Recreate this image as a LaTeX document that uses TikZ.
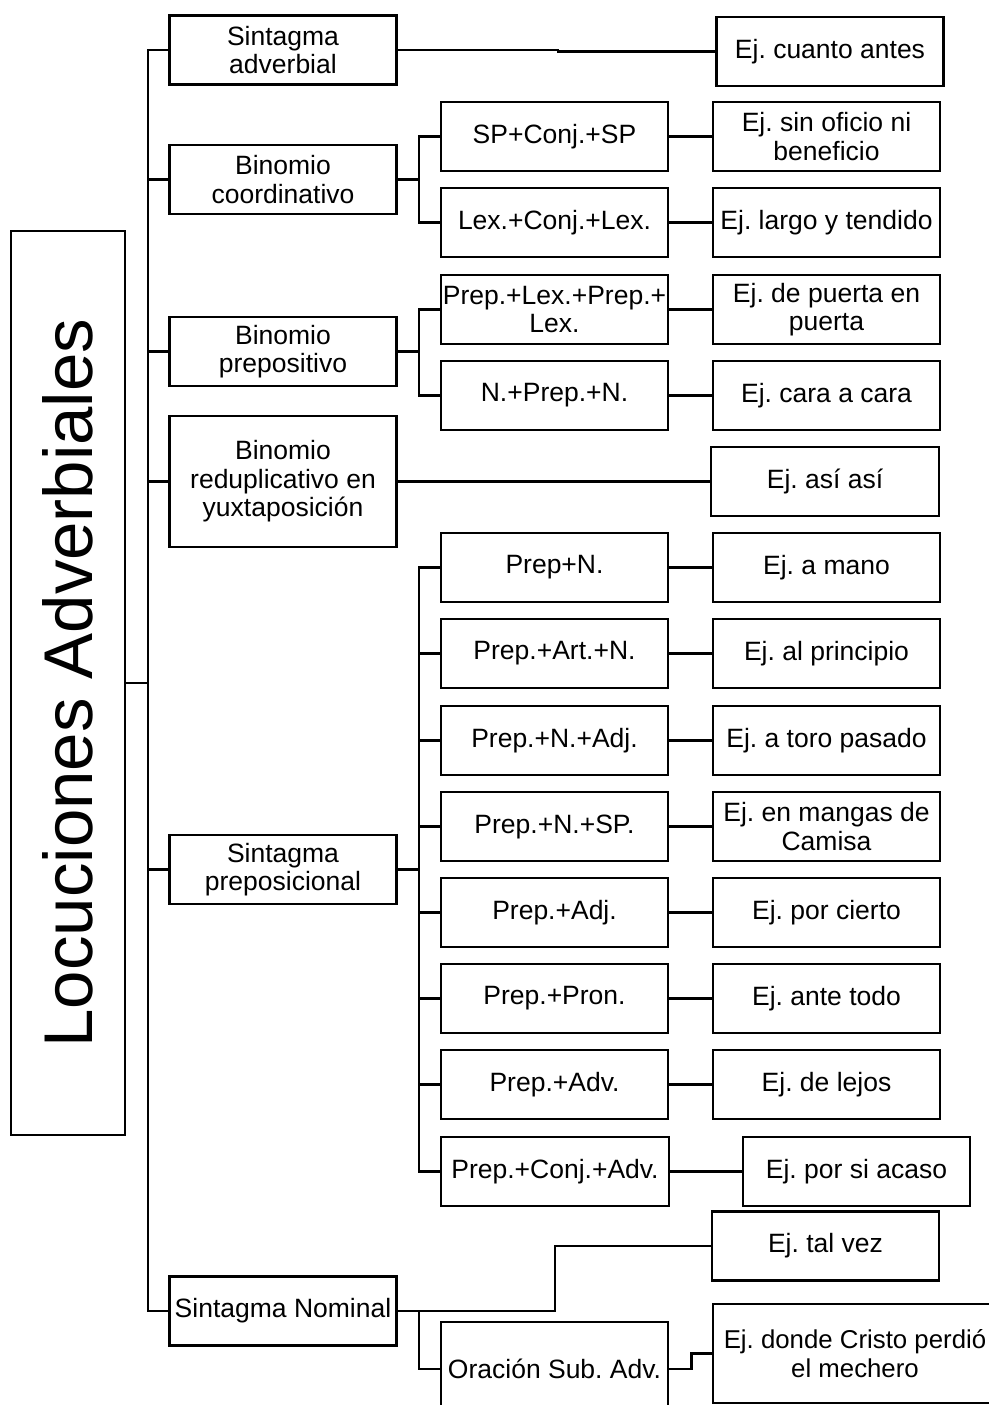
\documentclass[tikz,border=0pt]{standalone}
\usepackage{fontspec}
\setmainfont{Liberation Sans}
\frenchspacing
\begin{document}
\begin{tikzpicture}[x=1pt,y=-1pt,
  box/.style={draw, line width=2.6pt, align=center, inner sep=0pt,
    minimum width=227pt, minimum height=69pt,
    font=\fontsize{26.5}{28.5}\selectfont},
  link/.style={line width=2.6pt},
  titlebox/.style={draw, line width=2pt, rotate=90, inner sep=0pt,
    minimum width=904pt, minimum height=114pt,
    font=\fontsize{69}{80}\selectfont}]
\useasboundingbox (0,0) rectangle (988,1405);

% bus lines
\coordinate (trunk) at (148,0);
\coordinate (bus) at (419,0);

% root
\node[titlebox] (main) at (68,683) {Locuciones Adverbiales};

% first level
\node[box] (sa)  at (283,50)    {Sintagma\\adverbial};
\node[box] (bc)  at (283,179.5) {Binomio\\coordinativo};
\node[box] (bp)  at (283,351.5) {Binomio\\prepositivo};
\node[box, minimum height=131pt] (br) at (283,481.5) {Binomio\\reduplicativo en\\yuxtaposición};
\node[box] (spr) at (283,869.5) {Sintagma\\preposicional};
\node[box] (sn)  at (283,1311)  {Sintagma Nominal};

% second level
\node[box] (c1) at (554.5,136.5)  {SP+Conj.+SP};
\node[box] (c2) at (554.5,222.5)  {Lex.+Conj.+Lex.};
\node[box] (p1) at (554.5,309.5)  {Prep.+Lex.+Prep.+\\Lex.};
\node[box] (p2) at (554.5,395.5)  {N.+Prep.+N.};
\node[box] (s1) at (554.5,567.5)  {Prep+N.};
\node[box] (s2) at (554.5,653.5)  {Prep.+Art.+N.};
\node[box] (s3) at (554.5,740.5)  {Prep.+N.+Adj.};
\node[box] (s4) at (554.5,826.5)  {Prep.+N.+SP.};
\node[box] (s5) at (554.5,912.5)  {Prep.+Adj.};
\node[box] (s6) at (554.5,998.5)  {Prep.+Pron.};
\node[box] (s7) at (554.5,1084.5) {Prep.+Adv.};
\node[box, minimum width=228pt] (s8) at (555,1171.5) {Prep.+Conj.+Adv.};
\node[box, minimum height=94pt] (ora) at (554.5,1369) {Oración Sub. Adv.};

% examples
\node[box] (e0)  at (830,51.5)    {Ej. cuanto antes};
\node[box] (e1)  at (826.5,136.5) {Ej. sin oficio ni\\beneficio};
\node[box] (e2)  at (826.5,222.5) {Ej. largo y tendido};
\node[box] (e3)  at (826.5,309.5) {Ej. de puerta en\\puerta};
\node[box] (e4)  at (826.5,395.5) {Ej. cara a cara};
\node[box, minimum width=228pt] (e5) at (825,481.5) {Ej. así así};
\node[box] (e6)  at (826.5,567.5) {Ej. a mano};
\node[box] (e7)  at (826.5,653.5) {Ej. al principio};
\node[box] (e8)  at (826.5,740.5) {Ej. a toro pasado};
\node[box] (e9)  at (826.5,826.5) {Ej. en mangas de\\Camisa};
\node[box] (e10) at (826.5,912.5) {Ej. por cierto};
\node[box] (e11) at (826.5,998.5) {Ej. ante todo};
\node[box] (e12) at (826.5,1084.5) {Ej. de lejos};
\node[box] (e13) at (856.5,1171.5) {Ej. por si acaso};
\node[box] (tv)  at (825.5,1246)  {Ej. tal vez};
\node[box, minimum width=284pt, minimum height=99pt,
  font=\fontsize{25.8}{28.5}\selectfont] (ed) at (855,1353.5) {Ej. donde Cristo perdió\\el mechero};

% trunk from the root
\draw[link] (main.south) -- (main.south -| trunk);
\draw[link] (sa.west) -| (trunk |- sn.west) -- (sn.west);
\foreach \n in {bc,bp,br,spr} \draw[link] (\n.west) -- (\n.west -| trunk);

% binomio coordinativo
\draw[link] (bc.east) -- (bc.east -| bus);
\draw[link] (c1.west) -| (bus |- c2.west) -- (c2.west);

% binomio prepositivo
\draw[link] (bp.east) -- (bp.east -| bus);
\draw[link] (p1.west) -| (bus |- p2.west) -- (p2.west);

% sintagma preposicional
\draw[link] (spr.east) -- (spr.east -| bus);
\draw[link] (s1.west) -| (bus |- s8.west) -- (s8.west);
\foreach \n in {s2,s3,s4,s5,s6,s7} \draw[link] (\n.west) -- (\n.west -| bus);

% sintagma nominal
\draw[link] (sn.east) -- ++(157,0) |- (tv.west);
\draw[link] (bus |- sn.east) |- (ora.west);
\draw[link] (ora.east) -- ++(22,0) |- (ed.west);

% direct examples
\draw[link] (sa.east) -- ++(160,0) |- (e0.west);
\draw[link] (br.east) -- (e5.west);
\draw[link] (c1) -- (e1);
\draw[link] (c2) -- (e2);
\draw[link] (p1) -- (e3);
\draw[link] (p2) -- (e4);
\draw[link] (s1) -- (e6);
\draw[link] (s2) -- (e7);
\draw[link] (s3) -- (e8);
\draw[link] (s4) -- (e9);
\draw[link] (s5) -- (e10);
\draw[link] (s6) -- (e11);
\draw[link] (s7) -- (e12);
\draw[link] (s8) -- (e13);
\end{tikzpicture}
\end{document}
